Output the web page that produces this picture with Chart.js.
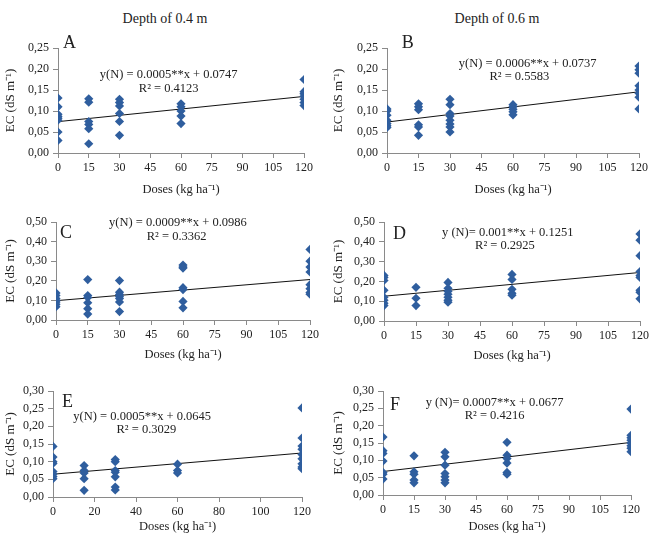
<!DOCTYPE html>
<html>
<head>
<meta charset="utf-8">
<script src="https://cdn.jsdelivr.net/npm/chart.js@4.4.0/dist/chart.umd.min.js"></script>
<style>
  body { margin: 0; background: #fff; width: 655px; height: 536px; position: relative; overflow: hidden; font-family: "Liberation Serif", serif; }
  canvas { position: absolute; }
  .depth { position: absolute; font-size: 14px; color: #222; transform: translate(-50%, -50%); white-space: nowrap; }
</style>
</head>
<body>
<div class="depth" style="left:165px;top:19px">Depth of 0.4 m</div>
<div class="depth" style="left:497px;top:19px">Depth of 0.6 m</div>
<canvas id="cA"></canvas>
<canvas id="cB"></canvas>
<canvas id="cC"></canvas>
<canvas id="cD"></canvas>
<canvas id="cE"></canvas>
<canvas id="cF"></canvas>
<script>
//data - N doses and EC read per dose
const doses = [0, 15, 30, 60, 120];

const ecA = [
  [0.131, 0.110, 0.092, 0.087, 0.083, 0.078, 0.050, 0.030],
  [0.129, 0.121, 0.075, 0.068, 0.058, 0.022],
  [0.128, 0.120, 0.112, 0.094, 0.075, 0.042],
  [0.117, 0.110, 0.100, 0.088, 0.070],
  [0.175, 0.146, 0.141, 0.135, 0.128, 0.120, 0.113]
];
const ecB = [
  [0.105, 0.100, 0.090, 0.078, 0.070, 0.065, 0.061],
  [0.117, 0.110, 0.103, 0.067, 0.062, 0.042],
  [0.128, 0.115, 0.094, 0.088, 0.078, 0.069, 0.062, 0.050],
  [0.115, 0.110, 0.104, 0.098, 0.091],
  [0.207, 0.198, 0.190, 0.160, 0.150, 0.142, 0.133, 0.105]
];
const ecC = [
  [0.138, 0.125, 0.110, 0.100, 0.092, 0.080, 0.068],
  [0.206, 0.125, 0.115, 0.088, 0.058, 0.030],
  [0.201, 0.142, 0.130, 0.120, 0.110, 0.092, 0.043],
  [0.280, 0.270, 0.265, 0.165, 0.155, 0.095, 0.062],
  [0.360, 0.300, 0.270, 0.245, 0.180, 0.160, 0.140, 0.132]
];
const ecD = [
  [0.230, 0.220, 0.205, 0.155, 0.120, 0.105, 0.090, 0.078],
  [0.170, 0.115, 0.078],
  [0.195, 0.165, 0.150, 0.135, 0.120, 0.105, 0.095],
  [0.235, 0.210, 0.160, 0.140, 0.130],
  [0.440, 0.408, 0.330, 0.250, 0.230, 0.220, 0.155, 0.145, 0.112]
];
const ecE = [
  [0.143, 0.113, 0.100, 0.095, 0.072, 0.065, 0.058, 0.052],
  [0.089, 0.075, 0.068, 0.052, 0.019],
  [0.106, 0.100, 0.075, 0.070, 0.057, 0.028, 0.020],
  [0.093, 0.075, 0.068],
  [0.252, 0.167, 0.144, 0.135, 0.120, 0.108, 0.094, 0.085, 0.080]
];
const ecF = [
  [0.167, 0.128, 0.120, 0.098, 0.065, 0.060, 0.046],
  [0.113, 0.067, 0.060, 0.043, 0.035],
  [0.123, 0.110, 0.086, 0.062, 0.053, 0.043, 0.035],
  [0.152, 0.115, 0.105, 0.092, 0.065, 0.060],
  [0.248, 0.172, 0.165, 0.158, 0.150, 0.142, 0.135, 0.125]
];

// regression: [slope, intercept]
const fitA = [0.0005, 0.0747];
const fitB = [0.0006, 0.0737];
const fitC = [0.0009, 0.0986];
const fitD = [0.001, 0.1251];
const fitE = [0.0005, 0.0645];
const fitF = [0.0007, 0.0677];

const eqA = ['y(N) = 0.0005**x + 0.0747', 'R² = 0.4123'];
const eqB = ['y(N) = 0.0006**x + 0.0737', 'R² = 0.5583'];
const eqC = ['y(N) = 0.0009**x + 0.0986', 'R² = 0.3362'];
const eqD = ['y (N)= 0.001**x + 0.1251', 'R² = 0.2925'];
const eqE = ['y(N) = 0.0005**x + 0.0645', 'R² = 0.3029'];
const eqF = ['y (N)= 0.0007**x + 0.0677', 'R² = 0.4216'];

const blue = '#2f5e9e';
const axisGrey = '#8a8a8a';
const serif = '"Liberation Serif", "Times New Roman", serif';

// draws panel letter + equation at data coords
const notesPlugin = {
  id: 'notes',
  afterDraw(chart, args, opts) {
    const ctx = chart.ctx;
    const xs = chart.scales.x, ys = chart.scales.y;
    ctx.save();
    ctx.fillStyle = '#222';
    ctx.textBaseline = 'middle';
    (opts.items || []).forEach(n => {
      ctx.font = n.size + 'px ' + serif;
      ctx.textAlign = n.align || 'center';
      ctx.fillText(n.text, xs.getPixelForValue(n.x), ys.getPixelForValue(n.y));
    });
    ctx.restore();
  }
};

function toPoints(values) {
  const pts = [];
  values.forEach((list, i) => {
    list.forEach(v => pts.push({ x: doses[i], y: v }));
  });
  return pts;
}

function makePanel(id, p) {
  const cv = document.getElementById(id);
  cv.style.left = p.box[0] + 'px';
  cv.style.top = p.box[1] + 'px';
  cv.width = p.box[2];
  cv.height = p.box[3];

  const lineEnd = doses[doses.length - 1];
  const ctx = cv.getContext('2d');
  return new Chart(ctx, {
    type: 'scatter',
    data: {
      datasets: [{
        data: toPoints(p.values),
        pointStyle: 'rectRot',
        pointRadius: 4.6,
        backgroundColor: blue,
        borderColor: blue,
        borderWidth: 0
      }, {
        type: 'line',
        data: [{ x: 0, y: p.fit[1] }, { x: lineEnd, y: p.fit[0] * lineEnd + p.fit[1] }],
        borderColor: '#111',
        borderWidth: 1,
        pointRadius: 0,
        fill: false
      }]
    },
    options: {
      responsive: false,
      animation: false,
      layout: { padding: { left: 0, top: p.padTop, right: p.padRight, bottom: 0 } },
      plugins: {
        legend: { display: false },
        tooltip: { enabled: false },
        notes: { items: p.notes }
      },
      scales: {
        x: {
          type: 'linear',
          min: 0,
          max: 120,
          ticks: { stepSize: p.xStep, autoSkip: false, maxRotation: 0, color: '#222', padding: 3, font: { family: serif, size: 12 } },
          grid: { drawOnChartArea: false, tickLength: 5, color: axisGrey },
          border: { color: axisGrey },
          title: { display: true, text: 'Doses (kg ha⁻¹)', color: '#222', padding: { top: 0, bottom: 2 }, font: { family: serif, size: 12.5 } },
          afterFit: s => { s.height = p.xH; }
        },
        y: {
          min: 0,
          max: p.yMax,
          ticks: {
            stepSize: p.yStep, autoSkip: false, color: '#222', padding: 4, font: { family: serif, size: 12 },
            callback: v => v.toFixed(2).replace('.', ',')
          },
          grid: { drawOnChartArea: false, tickLength: 5, color: axisGrey },
          border: { color: axisGrey },
          title: { display: true, text: 'EC (dS m⁻¹)', color: '#222', padding: { top: 3, bottom: 0 }, font: { family: serif, size: 13 } },
          afterFit: s => { s.width = p.yW; }
        }
      }
    },
    plugins: [notesPlugin]
  });
}

function notes(letter, lx, ly, eq, e1, e2) {
  return [
    { text: letter, x: lx, y: ly, size: 18, align: 'left' },
    { text: eq[0], x: e1[0], y: e1[1], size: 12.5 },
    { text: eq[1], x: e2[0], y: e2[1], size: 12.5 }
  ];
}

makePanel('cA', {
  box: [0, 30, 325, 169], yW: 58, xH: 46, padTop: 18, padRight: 21,
  values: ecA, fit: fitA, xStep: 15, yMax: 0.25, yStep: 0.05,
  notes: notes('A', 2.4, 0.262, eqA, [54, 0.186], [54, 0.152])
});
makePanel('cB', {
  box: [328, 30, 327, 169], yW: 59, xH: 46, padTop: 18, padRight: 16,
  values: ecB, fit: fitB, xStep: 15, yMax: 0.25, yStep: 0.05,
  notes: notes('B', 7, 0.262, eqB, [67, 0.212], [63, 0.181])
});
makePanel('cC', {
  box: [0, 205, 325, 159], yW: 56, xH: 44, padTop: 17, padRight: 15,
  values: ecC, fit: fitC, xStep: 15, yMax: 0.5, yStep: 0.1,
  notes: notes('C', 1.9, 0.444, eqC, [57.6, 0.495], [57, 0.424])
});
makePanel('cD', {
  box: [328, 205, 327, 160], yW: 56, xH: 44, padTop: 17, padRight: 15,
  values: ecD, fit: fitD, xStep: 15, yMax: 0.5, yStep: 0.1,
  notes: notes('D', 4.2, 0.44, eqD, [58, 0.444], [56.7, 0.379])
});
makePanel('cE', {
  box: [0, 372, 325, 164], yW: 53, xH: 39, padTop: 19, padRight: 23,
  values: ecE, fit: fitE, xStep: 20, yMax: 0.3, yStep: 0.05,
  notes: notes('E', 4.3, 0.269, eqE, [43, 0.227], [45, 0.19])
});
makePanel('cF', {
  box: [328, 372, 327, 164], yW: 55, xH: 41, padTop: 19, padRight: 24,
  values: ecF, fit: fitF, xStep: 15, yMax: 0.3, yStep: 0.05,
  notes: notes('F', 3.4, 0.259, eqF, [54, 0.265], [54, 0.228])
});
</script>
</body>
</html>
